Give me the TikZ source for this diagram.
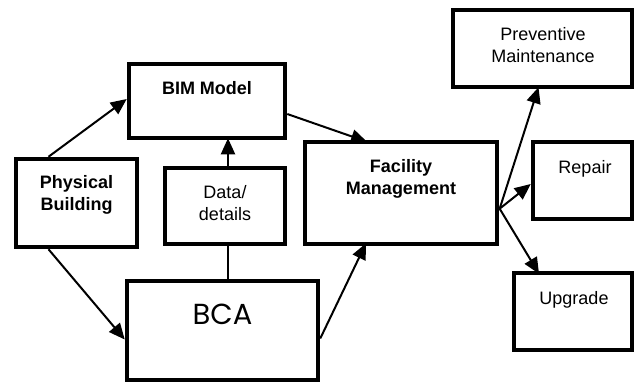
\documentclass[tikz,border=0pt]{standalone}
\usepackage{fontspec}
\setmainfont{Liberation Sans}
\newfontfamily\bcafont{Poppins}
\usetikzlibrary{arrows.meta}
\begin{document}
\begin{tikzpicture}[x=1pt,y=-1pt,
  box/.style={draw,line width=4.5pt,minimum width=#1,inner sep=0pt},
  lbl/.style={anchor=base,align=center,inner sep=0pt,font=\fontsize{18}{21.5}\selectfont},
  conn/.style={line width=2pt,-{Triangle[length=16pt,width=14pt]}},
  plain/.style={line width=2pt}]
\useasboundingbox (0,0) rectangle (635,383);
% boxes
\node (bim)  [box=156pt,minimum height=74pt]  at (207,101) {};
\node (pb)   [box=121pt,minimum height=88pt]  at (76.5,203) {};
\node (data) [box=120pt,minimum height=76pt]  at (225,206) {};
\node (bca)  [box=191pt,minimum height=99pt]  at (222.5,330.5) {};
\node (fm)   [box=192pt,minimum height=102pt] at (401,193) {};
\node (pm)   [box=179pt,minimum height=77pt]  at (542.5,48.5) {};
\node (rep)  [box=99pt,minimum height=77pt]   at (582.5,180.5) {};
\node (upg)  [box=118pt,minimum height=77pt]  at (573,311.5) {};
% texts (anchor base = baseline of last line)
\node (tbim)  [lbl] at (207,94)   {\bfseries BIM Model};
\node (tpb)   [lbl] at (76.5,210) {\bfseries Physical\\\bfseries Building};
\node (tdata) [lbl] at (225,220)  {Data/\\details};
\node (tbca)  [anchor=base,inner sep=0pt,font=\bcafont\fontsize{29}{32}\selectfont] at (222.5,324) {BCA};
\node (tfm)   [lbl] at (401,194)  {\bfseries Facility\\\bfseries Management};
\node (tpm)   [lbl] at (543,62)   {Preventive\\Maintenance};
\node (trep)  [lbl] at (585,173)  {Repair};
\node (tupg)  [lbl] at (574,304)  {Upgrade};
% connectors
\draw[conn] ([xshift=-28pt]pb.north) -- ([yshift=2pt]bim.west);
\draw[conn] ([xshift=-28pt]pb.south) -- ([yshift=-9pt]bca.west);
\draw[conn] ([xshift=3pt]data.north) -- ([xshift=21pt,yshift=2pt]bim.south);
\draw[plain] ([xshift=3pt]data.south) -- ([xshift=5.5pt]bca.north);
\draw[conn] ([yshift=-13pt]bim.east) -- ([xshift=-34pt,yshift=-2pt]fm.north);
\draw[conn] ([yshift=-8pt]bca.east) -- ([xshift=-35pt,yshift=3pt]fm.south);
\draw[conn] ([yshift=-17pt]fm.east) -- ([xshift=-4pt,yshift=2pt]pm.south);
\draw[conn] ([yshift=-16pt]fm.east) -- ([yshift=-3.5pt]rep.west);
\draw[conn] ([yshift=-15pt]fm.east) -- ([xshift=-34pt,yshift=-3pt]upg.north);
\end{tikzpicture}
\end{document}
